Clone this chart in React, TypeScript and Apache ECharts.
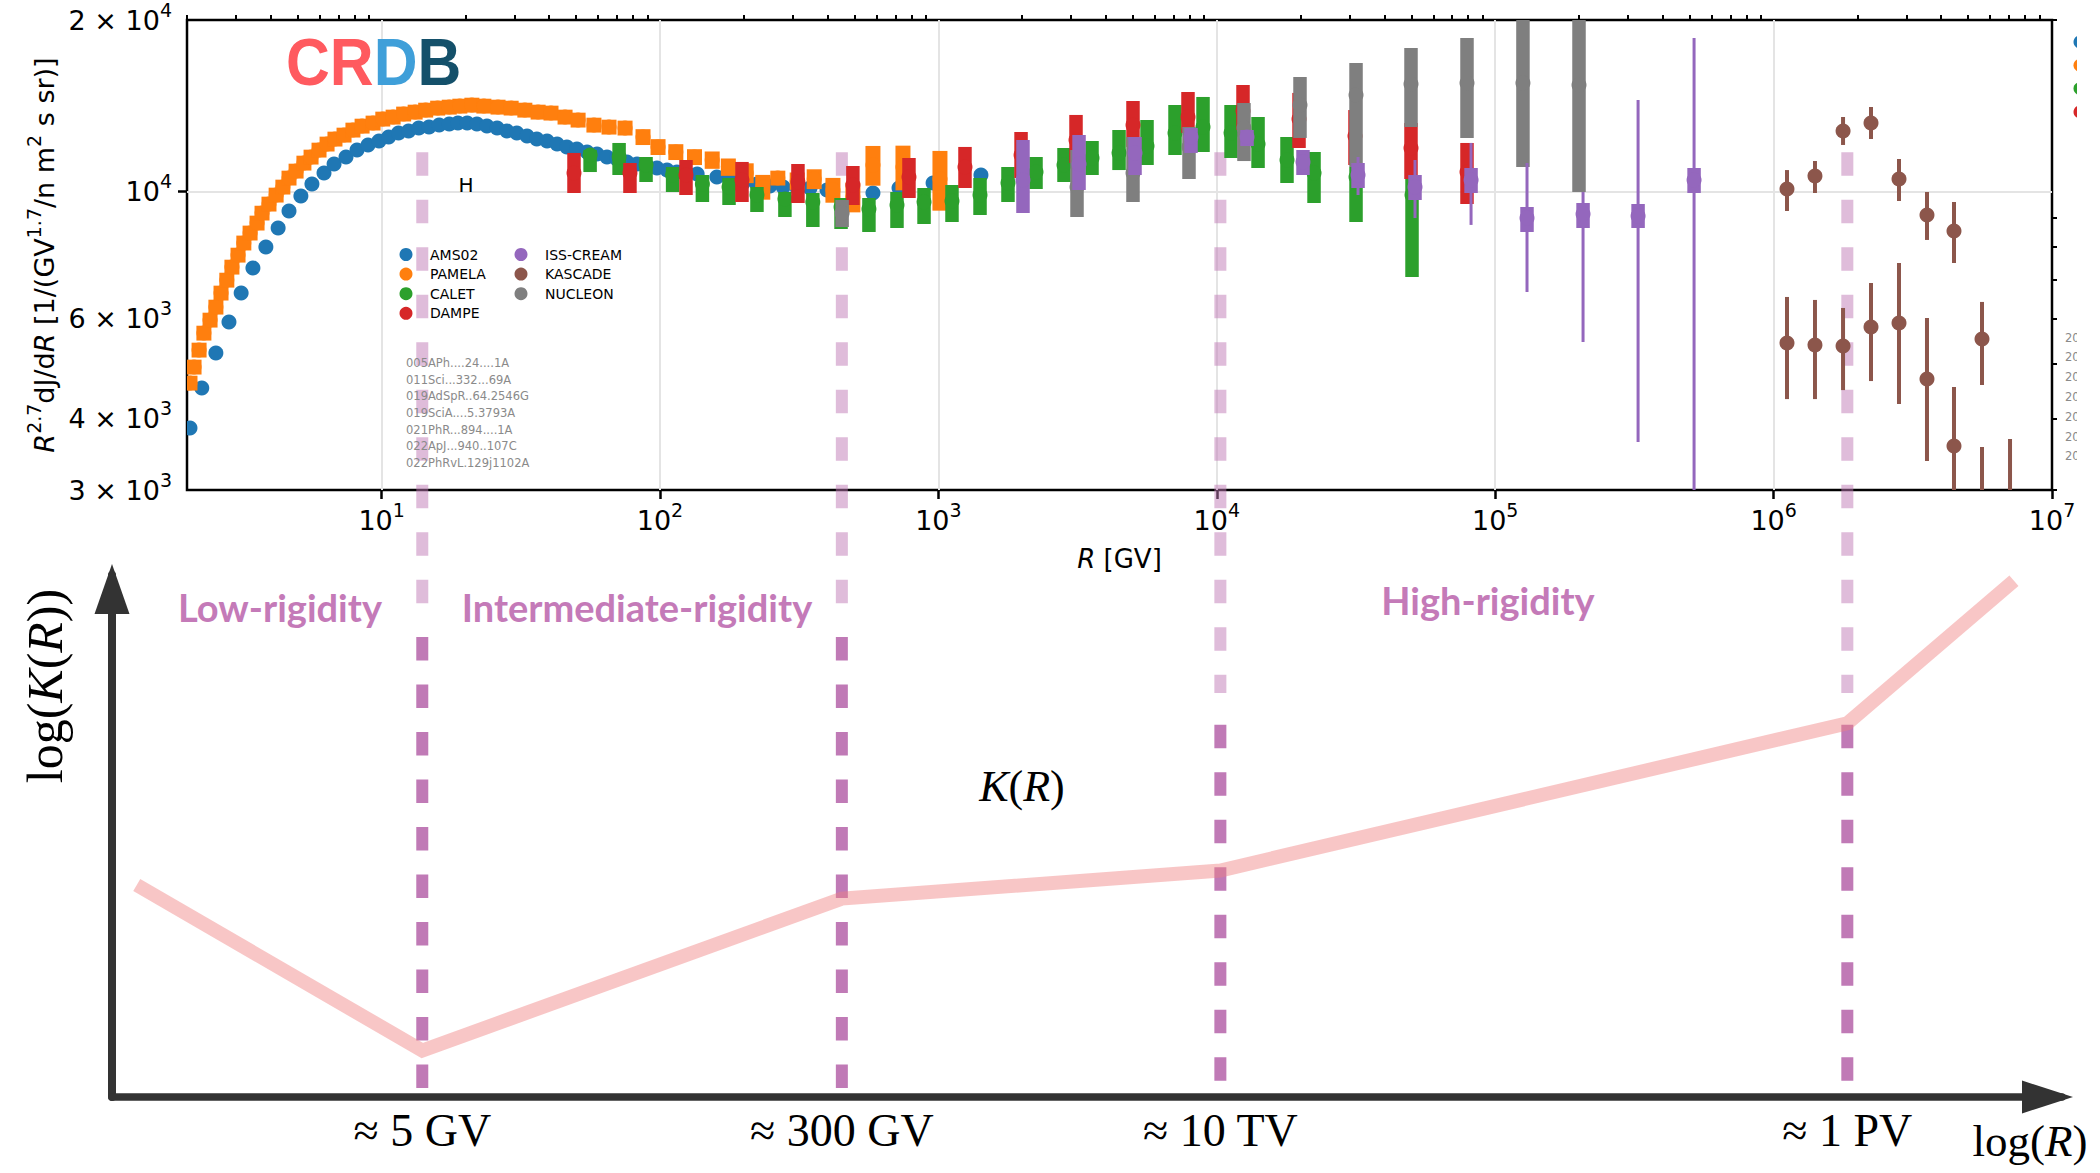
import React, { useEffect, useRef } from "react";
import * as echarts from "echarts";

// ---------------- data: rigidity R [GV], flux R^2.7 dJ/dR ----------------
const AMS02: number[][] = [
  [2.05, 3853], [2.26, 4529], [2.54, 5215], [2.83, 5909], [3.13, 6645], [3.45, 7349], [3.84, 8001], [4.25, 8638],
  [4.65, 9252], [5.13, 9829], [5.62, 10318], [6.21, 10784], [6.75, 11184], [7.45, 11505], [8.16, 11834], [8.94, 12077],
  [9.79, 12273], [10.6, 12473], [11.5, 12676], [12.5, 12778], [13.6, 12935], [14.8, 12985], [16.1, 13090], [17.5, 13145],
  [18.8, 13199], [20.3, 13199], [22.0, 13145], [23.9, 13037], [26.0, 12935], [28.2, 12778], [30.6, 12676], [33.3, 12524],
  [36.1, 12372], [39.3, 12273], [42.7, 12125], [46.3, 11981], [50.3, 11884], [54.7, 11740], [59.4, 11646], [64.5, 11505],
  [70.0, 11413], [76.1, 11277], [82.7, 11184], [89.8, 11095], [97.5, 11005], [106, 10914], [115, 10827], [125, 10784],
  [136, 10740], [160, 10612], [178, 10484], [199, 10359], [223, 10318], [248, 10233], [277, 10193], [311, 10151],
  [346, 10151], [398, 10070], [582, 9948], [722, 10151], [957, 10359], [1422, 10698],
];
// [R, flux, relative error %]
const PAMELA: number[][] = [
  [2.05, 4620, 3], [2.12, 4929, 3], [2.21, 5279, 3], [2.30, 5653, 3], [2.42, 5958, 3], [2.54, 6279, 3],
  [2.65, 6645, 3], [2.78, 7001, 3], [2.90, 7379, 3], [3.05, 7745, 3], [3.20, 8133, 3], [3.37, 8467, 3],
  [3.57, 8815, 3], [3.72, 9178, 3], [3.94, 9517, 3], [4.18, 9869, 3], [4.42, 10193, 3], [4.65, 10570, 3],
  [4.93, 10872, 3], [5.26, 11229, 3], [5.58, 11505, 3], [5.96, 11834, 3], [6.37, 12126, 3], [6.80, 12372, 3],
  [7.33, 12573, 3], [7.89, 12830, 3], [8.51, 13037, 3], [9.32, 13199, 3], [10.1, 13413, 3], [11.0, 13521, 3],
  [12.0, 13688, 3], [13.2, 13795, 3], [14.4, 13906, 3], [15.9, 14020, 3], [17.5, 14076, 3], [19.1, 14133, 3],
  [21.1, 14190, 3], [23.3, 14133, 3], [26.2, 14076, 3], [29.2, 14020, 3], [32.7, 13906, 3], [36.5, 13795, 3],
  [40.6, 13741, 3], [45.6, 13521, 3], [50.8, 13358, 3], [57.9, 13090, 3], [65.6, 12985, 3], [74.9, 12935, 3],
  [86.9, 12473, 3.2], [98.4, 11981, 3.2], [114, 11740, 3.2], [133, 11505, 3.2], [154, 11366, 3.5], [176, 11049, 3.5],
  [204, 10784, 4], [234, 10193, 5], [265, 10570, 3], [311, 10442, 3.5], [358, 10527, 4], [418, 10070, 5],
  [493, 9788, 6], [582, 11138, 8], [746, 11049, 9], [1013, 10527, 12],
];
// [R, flux, low, high]
const CALET: number[][] = [
  [56.1, 11598, 10827, 11834], [71.3, 11505, 10698, 12175], [89.1, 11138, 10399, 11505], [111, 10698, 9989, 11049],
  [142, 10318, 9594, 10698], [177, 10193, 9478, 10570], [223, 9868, 9214, 10193], [281, 9710, 9031, 9989],
  [354, 9594, 8673, 9948], [447, 9402, 8603, 9750], [563, 9326, 8500, 9750], [710, 9478, 8638, 9989],
  [888, 9594, 8779, 10151], [1119, 9632, 8850, 10276], [1411, 9868, 9104, 10570], [1778, 10359, 9594, 11049],
  [2242, 10827, 10110, 11505], [2826, 11138, 10399, 11931], [3563, 11459, 10698, 12273], [4455, 11694, 10914, 12830],
  [5615, 12027, 11138, 13358], [7078, 12676, 11598, 14190], [8923, 12985, 11740, 14659], [11250, 12676, 11459, 14190],
  [14066, 12125, 11005, 13521], [17872, 11366, 10359, 12473], [22350, 10784, 9555, 11740], [31630, 10612, 8850, 11049],
  [50260, 9868, 7089, 10612],
];
const DAMPE: number[][] = [
  [49.1, 10784, 9948, 11694], [78.0, 10784, 9948, 11229], [124, 10698, 9868, 11366], [197, 10484, 9594, 11277],
  [313, 10399, 9555, 11184], [493, 10276, 9478, 11095], [784, 10612, 9750, 11459], [1246, 11049, 10151, 11981],
  [1981, 11598, 10570, 12728], [3121, 12322, 11229, 13633], [5000, 13090, 11981, 14421], [7880, 13521, 12676, 14955],
  [12420, 13854, 12830, 15386], [19740, 13413, 11931, 14900], [31360, 12524, 11138, 13906], [49840, 11931, 10527, 13199],
  [79200, 10827, 9517, 12175],
];
const NUCLEON: number[][] = [
  [451, 9178, 8673, 9671], [3147, 10193, 9031, 11834], [5000, 10784, 9594, 12473], [7946, 11981, 10527, 12985],
  [12520, 12935, 11318, 14305], [19900, 14190, 12423, 15888], [31630, 14774, 11049, 16810], [49840, 15447, 12985, 17862],
  [79200, 15510, 12423, 18600], [125800, 15510, 11049, 23000], [200000, 15380, 9989, 24000],
];
// [R, flux, low(stat), high(stat), low(total), high(total)]
const ISS_CREAM: number[][] = [
  [2013, 10484, 9178, 12322, 9178, 12322], [3200, 11184, 10070, 12573, 10070, 12573],
  [5085, 11694, 10698, 12473, 10698, 12473], [8080, 12473, 11694, 12935, 11694, 12935],
  [12840, 12473, 12027, 12830, 12027, 12830], [20400, 11277, 10698, 11834, 10698, 11834],
  [32160, 10698, 10151, 11229, 9868, 11505], [51520, 10193, 9671, 10698, 8993, 11366],
  [81900, 10484, 9948, 11005, 8746, 12175], [130100, 8993, 8500, 9402, 6672, 11229],
  [206800, 9140, 8638, 9555, 5452, 9989], [326000, 9067, 8638, 9517, 3640, 14482],
  [518000, 10484, 9948, 11005, 2500, 18600],
];
const KASCADE: number[][] = [
  [1.117e6, 10110, 9252, 10914], [1.408e6, 10655, 9948, 11320], [1.776e6, 12778, 12077, 13521],
  [2.238e6, 13199, 12372, 14076], [2.821e6, 10527, 9632, 11413], [3.556e6, 9104, 8231, 9989],
  [4.446e6, 8534, 7499, 9594],
  [1.117e6, 5430, 4330, 6539], [1.408e6, 5386, 4330, 6461], [1.776e6, 5365, 4490, 6255],
  [2.238e6, 5793, 4657, 6918], [2.821e6, 5887, 4245, 7499], [3.556e6, 4695, 3373, 6006],
  [4.446e6, 3583, 2700, 4546], [5.605e6, 5518, 4583, 6409], [5.605e6, 2500, 1800, 3569],
  [7.067e6, 2600, 1900, 3686],
];

const X_MAJOR_EXP = [1, 2, 3, 4, 5, 6, 7];
const X_GRID_EXP = [1, 2, 3, 4, 5, 6];
const Y_LABEL_VALUES = [3000, 4000, 6000, 10000, 20000];
const Y_MINOR_VALUES = [3000, 4000, 5000, 6000, 7000, 8000, 9000, 20000];
const REFERENCES = [
  "005APh....24....1A", "011Sci...332...69A", "019AdSpR..64.2546G", "019SciA....5.3793A",
  "021PhR...894....1A", "022ApJ...940..107C", "022PhRvL.129j1102A",
];
const CUT_REFERENCES = ["2005", "2011", "2019", "2019", "2021", "2022", "2022"];

// schematic (lower panel): K(R) in arbitrary log units
const K_R = [1.32, 14, 450, 1.03e4, 1.84e6, 7.3e6];
const K_LOG = [4.06, 0.89, 3.8, 4.34, 7.16, 9.89];
const BREAK_R = [14, 450, 1.03e4, 1.84e6];
const BREAK_LABELS = ["≈ 5 GV", "≈ 300 GV", "≈ 10 TV", "≈ 1 PV"];
const LIGHT_TOP = [18.1, 18.1, 18.1, 18.1];
const LIGHT_END = [9.46, 9.46, 7.74, 7.74];
const DARK_START = [8.81, 8.81, 7.13, 7.13];
const DARK_END = [0.13, 0.13, 0.13, 0.13];
const REGION_LABELS = ["Low-rigidity", "Intermediate-rigidity", "High-rigidity"];

// ---------------- layout / style ----------------
const W = 2100;
const H = 1173;
const X_MIN_R = 2;
const X_MAX_R = 1e7;
const Y_MIN = 3000;
const Y_MAX = 20000;
const G0 = { left: 187, top: 20, width: 1865, height: 470 };
const G1 = { left: 112, top: 575, width: 1950, height: 522 };
const SANS = '"DejaVu Sans", sans-serif';
const SERIF = '"Liberation Serif", serif';
const LABEL_FONT = "Lato, sans-serif";
const COLORS: Record<string, string> = {
  AMS02: "#1f77b4", PAMELA: "#ff7f0e", CALET: "#2ca02c", DAMPE: "#d62728",
  "ISS-CREAM": "#9467bd", KASCADE: "#8c564b", NUCLEON: "#7f7f7f",
};
const REGION_COLOR = "#c47ab8";

const L = Math.log10;

function buildOption() {
  const X0_MIN = L(X_MIN_R);
  const X0_MAX = L(X_MAX_R);
  const pxPerDec = G0.width / (X0_MAX - X0_MIN);
  const X1_MIN = X0_MIN - (G0.left - G1.left) / pxPerDec;
  const X1_MAX = X0_MAX + (G1.left + G1.width - (G0.left + G0.width)) / pxPerDec;

  const xMinor: number[] = [];
  for (let e = 0; e < 7; e++) {
    for (let k = 2; k <= 9; k++) {
      const v = L(k * Math.pow(10, e));
      if (v >= X0_MIN && v <= X0_MAX) xMinor.push(v);
    }
  }

  const tickRich = {
    n: { fontSize: 27, fontFamily: SANS, color: "#000", lineHeight: 40, verticalAlign: "middle" },
    s: { fontSize: 19, fontFamily: SANS, color: "#000", verticalAlign: "top" },
  };
  const fmtPow = (v: number) => {
    const e = Math.floor(v + 1e-9);
    const m = Math.round(Math.pow(10, v - e));
    return m === 1 ? `{n|10}{s|${e}}` : `{n|${m} × 10}{s|${e}}`;
  };

  const makeRender = (color: string, barW: number, r: number, thinW = 0) => (params: any, api: any) => {
    const x = api.value(0);
    const c = api.coord([x, api.value(1)]);
    const lo = api.coord([x, api.value(2)]);
    const hi = api.coord([x, api.value(3)]);
    const children: any[] = [];
    if (thinW > 0) {
      const tlo = api.coord([x, api.value(4)]);
      const thi = api.coord([x, api.value(5)]);
      children.push({ type: "rect", shape: { x: c[0] - thinW / 2, y: thi[1], width: thinW, height: tlo[1] - thi[1] }, style: { fill: color } });
    }
    if (barW > 0) {
      children.push({ type: "rect", shape: { x: c[0] - barW / 2, y: hi[1], width: barW, height: lo[1] - hi[1] }, style: { fill: color } });
    }
    children.push({ type: "circle", shape: { cx: c[0], cy: c[1], r }, style: { fill: color } });
    return { type: "group", children };
  };

  const expSeries = [
    { name: "AMS02", data: AMS02.map((d) => [L(d[0]), L(d[1]), L(d[1]), L(d[1])]), render: makeRender(COLORS.AMS02, 0, 7.5) },
    { name: "PAMELA", data: PAMELA.map((d) => [L(d[0]), L(d[1]), L(d[1] * (1 - d[2] / 100)), L(d[1] * (1 + d[2] / 100))]), render: makeRender(COLORS.PAMELA, 15, 7.5) },
    { name: "CALET", data: CALET.map((d) => [L(d[0]), L(d[1]), L(d[2]), L(d[3])]), render: makeRender(COLORS.CALET, 13.5, 7.5) },
    { name: "DAMPE", data: DAMPE.map((d) => [L(d[0]), L(d[1]), L(d[2]), L(d[3])]), render: makeRender(COLORS.DAMPE, 13.5, 7.5) },
    { name: "NUCLEON", data: NUCLEON.map((d) => [L(d[0]), L(d[1]), L(d[2]), L(d[3])]), render: makeRender(COLORS.NUCLEON, 13.5, 7.5) },
    { name: "ISS-CREAM", data: ISS_CREAM.map((d) => [L(d[0]), L(d[1]), L(d[2]), L(d[3]), L(d[4]), L(d[5])]), render: makeRender(COLORS["ISS-CREAM"], 13.5, 7.5, 3) },
    { name: "KASCADE", data: KASCADE.map((d) => [L(d[0]), L(d[1]), L(d[2]), L(d[3])]), render: makeRender(COLORS.KASCADE, 4, 7.5) },
  ].map((s) => ({
    type: "custom",
    name: s.name,
    coordinateSystem: "cartesian2d",
    xAxisIndex: 0,
    yAxisIndex: 0,
    data: s.data,
    encode: { x: 0, y: 1 },
    renderItem: s.render,
    itemStyle: { color: COLORS[s.name] },
    clip: true,
    silent: true,
    z: 3,
  }));

  const dashRender = (color: string) => (params: any, api: any) => {
    const a = api.coord([api.value(0), api.value(1)]);
    const b = api.coord([api.value(0), api.value(2)]);
    return {
      type: "line",
      shape: { x1: a[0], y1: a[1], x2: b[0], y2: b[1] },
      style: { stroke: color, lineWidth: 12, lineDash: [23.5, 24], fill: null },
    };
  };

  const legendCommon = {
    orient: "vertical",
    icon: "circle",
    itemWidth: 38,
    itemHeight: 13,
    itemGap: 5.6,
    padding: 0,
    selectedMode: false,
    textStyle: { fontSize: 14, fontFamily: SANS, color: "#000", lineHeight: 13 },
  };

  const nameRich = {
    n: { fontSize: 26, fontFamily: SANS, color: "#000" },
    i: { fontSize: 26, fontFamily: SANS, fontStyle: "italic", color: "#000" },
  };
  const yNameRich = {
    n: { fontSize: 27, fontFamily: SANS, color: "#000", lineHeight: 40 },
    i: { fontSize: 27, fontFamily: SANS, fontStyle: "italic", color: "#000", lineHeight: 40 },
    s: { fontSize: 19, fontFamily: SANS, color: "#000", verticalAlign: "top" },
  };
  const serifRich = (size: number) => ({
    n: { fontSize: size, fontFamily: SERIF, fill: "#000", color: "#000" },
    i: { fontSize: size, fontFamily: SERIF, fontStyle: "italic", fill: "#000", color: "#000" },
  });

  const logoFont = { fontSize: 66, fontFamily: '"Liberation Sans", sans-serif', fontWeight: "bold" };
  const regionPos = [[280, 607], [637, 607], [1488, 600]];

  const graphic: any[] = [
    {
      type: "text", x: 286, y: 62, scaleX: 0.92, z: 5,
      style: {
        text: "{c|CR}{d|D}{b|B}", font: 'bold 66px "Liberation Sans"', verticalAlign: "middle", textVerticalAlign: "middle",
        rich: { c: { ...logoFont, fill: "#ff5a5f" }, d: { ...logoFont, fill: "#3f9fd9" }, b: { ...logoFont, fill: "#14506a" } },
      },
    },
    { type: "text", x: 466, y: 185, z: 5, style: { text: "H", font: `20px ${SANS}`, fill: "#000", align: "center", textAlign: "center", verticalAlign: "middle", textVerticalAlign: "middle" } },
    { type: "text", x: 406, y: 413, z: 5, style: { text: REFERENCES.join("\n"), font: `11.5px ${SANS}`, lineHeight: 16.67, fill: "#8a8a8a", verticalAlign: "middle", textVerticalAlign: "middle" } },
    ...["AMS02", "PAMELA", "CALET", "DAMPE"].map((n, i) => ({ type: "circle", z: 5, shape: { cx: 2080, cy: 42 + i * 23.3, r: 6.5 }, style: { fill: COLORS[n] } })),
    { type: "text", x: 2065, y: 397, z: 5, style: { text: CUT_REFERENCES.join("\n"), font: `11.5px ${SANS}`, lineHeight: 19.8, fill: "#8a8a8a", verticalAlign: "middle", textVerticalAlign: "middle" } },
    { type: "rect", z: 50, shape: { x: 2077, y: 0, width: 30, height: 500 }, style: { fill: "#fff" } },
    ...REGION_LABELS.map((t, i) => ({ type: "text", x: regionPos[i][0], y: regionPos[i][1], z: 5, style: { text: t, font: `bold 38px ${LABEL_FONT}`, fill: REGION_COLOR, align: "center", textAlign: "center", verticalAlign: "middle", textVerticalAlign: "middle" } })),
    { type: "text", x: 1022, y: 786, z: 5, style: { text: "{i|K}{n|(}{i|R}{n|)}", rich: serifRich(44), font: `44px ${SERIF}`, align: "center", textAlign: "center", verticalAlign: "middle", textVerticalAlign: "middle" } },
    { type: "text", x: 2030, y: 1141, z: 5, style: { text: "{n|log(}{i|R}{n|)}", rich: serifRich(45), font: `45px ${SERIF}`, align: "center", textAlign: "center", verticalAlign: "middle", textVerticalAlign: "middle" } },
    { type: "text", x: 45, y: 686, rotation: Math.PI / 2, z: 5, style: { text: "{n|log(}{i|K}{n|(}{i|R}{n|))}", rich: serifRich(50), font: `50px ${SERIF}`, align: "center", textAlign: "center", verticalAlign: "middle", textVerticalAlign: "middle" } },
  ];

  return {
    animation: false,
    backgroundColor: "#ffffff",
    tooltip: { show: false },
    legend: [
      { ...legendCommon, left: 399.5, top: 247.5, data: ["AMS02", "PAMELA", "CALET", "DAMPE"] },
      { ...legendCommon, left: 514.5, top: 247.5, data: ["ISS-CREAM", "KASCADE", "NUCLEON"] },
    ],
    grid: [
      { left: G0.left, top: G0.top, width: G0.width, height: G0.height, show: true, borderColor: "#000", borderWidth: 2.5, backgroundColor: "transparent", containLabel: false, outerBoundsMode: "none" },
      { left: G1.left, top: G1.top, width: G1.width, height: G1.height, show: false, containLabel: false, outerBoundsMode: "none" },
    ],
    xAxis: [
      {
        gridIndex: 0, type: "value", min: X0_MIN, max: X0_MAX,
        axisLine: { show: false },
        axisTick: { show: true, customValues: X_MAJOR_EXP, length: 9, lineStyle: { color: "#000", width: 2.5 } },
        axisLabel: { show: true, customValues: X_MAJOR_EXP, formatter: (v: number) => `{n|10}{s|${Math.round(v)}}`, margin: 10, rich: tickRich },
        splitLine: { show: false },
        name: "{i|R}{n| [GV]}", nameLocation: "middle", nameGap: 56, nameTextStyle: { rich: nameRich },
      },
      {
        gridIndex: 0, type: "value", min: X0_MIN, max: X0_MAX,
        axisLine: { show: false },
        axisTick: { show: true, customValues: xMinor, length: 5, lineStyle: { color: "#000", width: 2 } },
        axisLabel: { show: false }, splitLine: { show: false },
      },
      {
        gridIndex: 0, type: "value", min: X0_MIN, max: X0_MAX,
        axisLine: { show: false },
        axisTick: { show: false, customValues: X_GRID_EXP },
        axisLabel: { show: false },
        splitLine: { show: true, lineStyle: { color: "#e4e4e4", width: 2 } },
      },
      {
        gridIndex: 1, type: "value", min: X1_MIN, max: X1_MAX,
        axisLine: { show: true, onZero: false, lineStyle: { color: "#333", width: 7.5 }, symbol: ["none", "triangle"], symbolSize: [33, 51], symbolOffset: [0, -14.5] },
        axisTick: { show: false },
        axisLabel: {
          show: true, customValues: BREAK_R.map(L), margin: 10, fontFamily: SERIF, fontSize: 46, color: "#000",
          formatter: (v: number) => {
            let best = 0;
            BREAK_R.forEach((r, i) => { if (Math.abs(L(r) - v) < Math.abs(L(BREAK_R[best]) - v)) best = i; });
            return BREAK_LABELS[best];
          },
        },
        splitLine: { show: false },
      },
    ],
    yAxis: [
      {
        gridIndex: 0, type: "value", min: L(Y_MIN), max: L(Y_MAX),
        axisLine: { show: false },
        axisTick: { show: true, customValues: [4], length: 9, lineStyle: { color: "#000", width: 2.5 } },
        axisLabel: { show: true, customValues: Y_LABEL_VALUES.map(L), formatter: fmtPow, margin: 15, rich: tickRich },
        splitLine: { show: true, lineStyle: { color: "#e4e4e4", width: 2 } },
        name: "{i|R}{s|2.7}{n|dJ/d}{i|R}{n| [1/(GV}{s|1.7}{n|/n m}{s|2}{n| s sr)]}",
        nameLocation: "middle", nameRotate: 90, nameGap: 123, nameTextStyle: { rich: yNameRich },
      },
      {
        gridIndex: 0, type: "value", min: L(Y_MIN), max: L(Y_MAX),
        axisLine: { show: false },
        axisTick: { show: true, customValues: Y_MINOR_VALUES.map(L), length: 5, lineStyle: { color: "#000", width: 2 } },
        axisLabel: { show: false }, splitLine: { show: false },
      },
      {
        gridIndex: 1, type: "value", min: 0, max: 10,
        axisLine: { show: true, onZero: false, lineStyle: { color: "#333", width: 8 }, symbol: ["none", "triangle"], symbolSize: [35, 50], symbolOffset: [0, -14] },
        axisTick: { show: false }, axisLabel: { show: false }, splitLine: { show: false },
      },
    ],
    series: [
      {
        type: "custom", name: "breaks-light", coordinateSystem: "cartesian2d", xAxisIndex: 3, yAxisIndex: 2,
        data: BREAK_R.map((r, i) => [L(r), LIGHT_TOP[i], LIGHT_END[i]]),
        renderItem: dashRender("rgba(192,122,182,0.5)"), clip: false, silent: true, z: 1,
      },
      {
        type: "custom", name: "breaks-dark", coordinateSystem: "cartesian2d", xAxisIndex: 3, yAxisIndex: 2,
        data: BREAK_R.map((r, i) => [L(r), DARK_START[i], DARK_END[i]]),
        renderItem: dashRender("#c07ab6"), clip: false, silent: true, z: 1,
      },
      {
        type: "line", name: "K(R)", xAxisIndex: 3, yAxisIndex: 2,
        data: K_R.map((r, i) => [L(r), K_LOG[i]]),
        symbol: "none", silent: true, clip: false, z: 2,
        lineStyle: { color: "rgba(240,128,128,0.45)", width: 14, join: "miter", cap: "butt" },
      },
      ...expSeries,
    ],
    graphic,
  };
}

export default function App() {
  const ref = useRef<HTMLDivElement>(null);
  useEffect(() => {
    if (!ref.current) return;
    const chart = echarts.init(ref.current, null, { renderer: "svg", width: W, height: H });
    chart.setOption(buildOption() as any);
    return () => chart.dispose();
  }, []);
  return <div ref={ref} style={{ position: "absolute", left: 0, top: 0, width: W, height: H, background: "#fff" }} />;
}
